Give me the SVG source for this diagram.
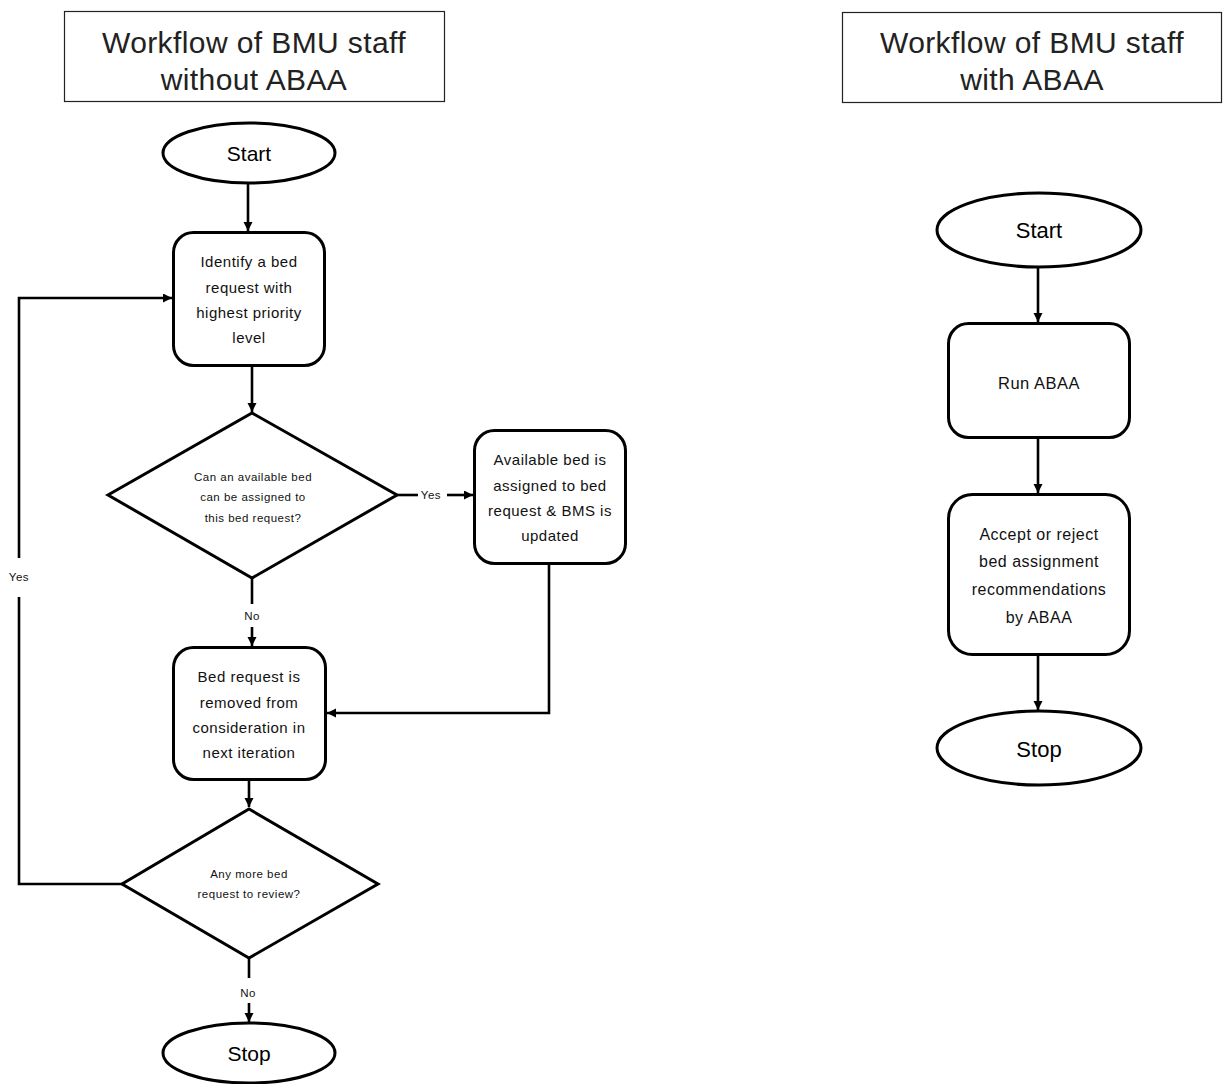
<svg xmlns="http://www.w3.org/2000/svg" width="1223" height="1084" viewBox="0 0 1223 1084">
<style>
.title{fill:#fff;stroke:#222;stroke-width:1.2}
.ttl{font-family:"Liberation Sans",Arial,sans-serif;font-size:30px;fill:#222;text-anchor:middle;letter-spacing:0.4px}
.shape{fill:#fff;stroke:#000;stroke-width:3}
.txt{font-family:"Liberation Sans",Arial,sans-serif;font-size:15px;fill:#111;text-anchor:middle;letter-spacing:0.5px}
.big{font-family:"Liberation Sans",Arial,sans-serif;font-size:21px;fill:#000;text-anchor:middle}
.sm{font-family:"Liberation Sans",Arial,sans-serif;font-size:11.5px;fill:#111;text-anchor:middle;letter-spacing:0.5px}
.lbl{font-family:"Liberation Sans",Arial,sans-serif;font-size:11.5px;fill:#111;text-anchor:middle;letter-spacing:0.5px}
.conn{fill:none;stroke:#000;stroke-width:2.6}
</style>
<defs>
<marker id="ah" markerUnits="userSpaceOnUse" markerWidth="12" markerHeight="12" refX="9" refY="4.5" orient="auto">
<path d="M0,0 L9,4.5 L0,9 z" fill="#000"/>
</marker>
</defs>
<rect width="1223" height="1084" fill="#fff"/>

<g id="title-left">
<rect class="title" x="64.5" y="11.5" width="380" height="90"/>
<text class="ttl" x="254" y="53">Workflow of BMU staff</text>
<text class="ttl" x="254" y="90">without ABAA</text>
</g>
<g id="title-right">
<rect class="title" x="842.5" y="12.5" width="379" height="90"/>
<text class="ttl" x="1032" y="53">Workflow of BMU staff</text>
<text class="ttl" x="1032" y="90">with ABAA</text>
</g>

<g id="connectors">
<path class="conn" d="M248,183 V231" marker-end="url(#ah)"/>
<path class="conn" d="M252,366 V412" marker-end="url(#ah)"/>
<path class="conn" d="M397,495 H418"/>
<path class="conn" d="M447,495 H473" marker-end="url(#ah)"/>
<path class="conn" d="M252,578 V604"/>
<path class="conn" d="M252,627 V646" marker-end="url(#ah)"/>
<path class="conn" d="M549,563 V713 H327" marker-end="url(#ah)"/>
<path class="conn" d="M249,780 V807" marker-end="url(#ah)"/>
<path class="conn" d="M122,884 H19 V597"/>
<path class="conn" d="M19,558 V298 H172" marker-end="url(#ah)"/>
<path class="conn" d="M249,958 V978"/>
<path class="conn" d="M249,1003 V1022" marker-end="url(#ah)"/>
<path class="conn" d="M1038,267 V322" marker-end="url(#ah)"/>
<path class="conn" d="M1038,437 V493" marker-end="url(#ah)"/>
<path class="conn" d="M1038,654 V710" marker-end="url(#ah)"/>
<text class="lbl" x="431" y="499">Yes</text>
<text class="lbl" x="252" y="620">No</text>
<text class="lbl" x="19" y="581">Yes</text>
<text class="lbl" x="248" y="997">No</text>
</g>

<g id="start-left">
<ellipse class="shape" cx="249" cy="153" rx="86" ry="30"/>
<text class="big" x="249" y="161">Start</text>
</g>
<g id="identify">
<rect class="shape" x="173.5" y="232.5" width="151" height="133" rx="20"/>
<text class="txt" x="249" y="267">Identify a bed</text>
<text class="txt" x="249" y="293">request with</text>
<text class="txt" x="249" y="318">highest priority</text>
<text class="txt" x="249" y="343">level</text>
</g>
<g id="decision-assign">
<polygon class="shape" points="252,413 397,495 252,578 108,495"/>
<text class="sm" x="253" y="481">Can an available bed</text>
<text class="sm" x="253" y="501">can be assigned to</text>
<text class="sm" x="253" y="522">this bed request?</text>
</g>
<g id="assigned">
<rect class="shape" x="474.5" y="430.5" width="151" height="133" rx="20"/>
<text class="txt" x="550" y="465">Available bed is</text>
<text class="txt" x="550" y="491">assigned to bed</text>
<text class="txt" x="550" y="516">request &amp; BMS is</text>
<text class="txt" x="550" y="541">updated</text>
</g>
<g id="removed">
<rect class="shape" x="173.5" y="647.5" width="152" height="132" rx="20"/>
<text class="txt" x="249" y="682">Bed request is</text>
<text class="txt" x="249" y="708">removed from</text>
<text class="txt" x="249" y="733">consideration in</text>
<text class="txt" x="249" y="758">next iteration</text>
</g>
<g id="decision-more">
<polygon class="shape" points="249,809 378,884 249,958 122,884"/>
<text class="sm" x="249" y="878">Any more bed</text>
<text class="sm" x="249" y="898">request to review?</text>
</g>
<g id="stop-left">
<ellipse class="shape" cx="249" cy="1053" rx="86" ry="30"/>
<text class="big" x="249" y="1061">Stop</text>
</g>

<g id="start-right">
<ellipse class="shape" cx="1039" cy="230" rx="102" ry="37"/>
<text class="big" x="1039" y="238" style="font-size:22px">Start</text>
</g>
<g id="run-abaa">
<rect class="shape" x="948.5" y="323.5" width="181" height="114" rx="20"/>
<text class="txt" x="1039" y="389" style="font-size:16.5px">Run ABAA</text>
</g>
<g id="accept">
<rect class="shape" x="948.5" y="494.5" width="181" height="160" rx="24"/>
<text class="txt" x="1039" y="540" style="font-size:16px">Accept or reject</text>
<text class="txt" x="1039" y="567" style="font-size:16px">bed assignment</text>
<text class="txt" x="1039" y="595" style="font-size:16px">recommendations</text>
<text class="txt" x="1039" y="623" style="font-size:16px">by ABAA</text>
</g>
<g id="stop-right">
<ellipse class="shape" cx="1039" cy="748" rx="102" ry="37"/>
<text class="big" x="1039" y="757" style="font-size:22px">Stop</text>
</g>
</svg>
